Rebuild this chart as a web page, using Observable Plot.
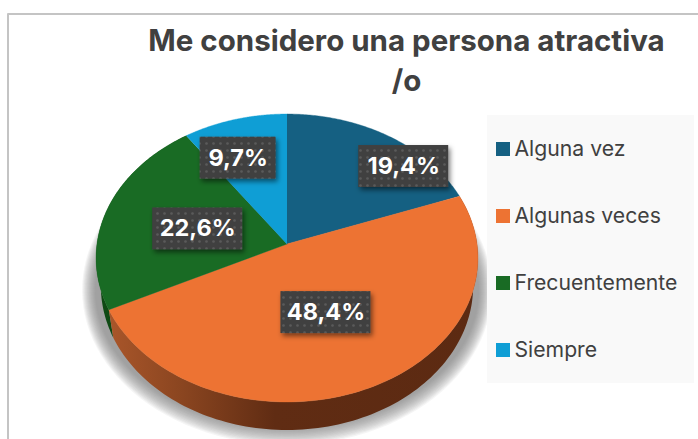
<!DOCTYPE html>
<html>
<head>
<meta charset="utf-8">
<script src="https://cdn.jsdelivr.net/npm/d3@7"></script>
<script src="https://cdn.jsdelivr.net/npm/@observablehq/plot@0.6"></script>
<style>
html,body{margin:0;padding:0;background:#fff;overflow:hidden}
svg{display:block}
</style>
</head>
<body>
<div id="chart"></div>
<script>
const categories = ["Alguna vez", "Algunas veces", "Frecuentemente", "Siempre"];
const shares = [19.4, 48.4, 22.6, 9.7];
const shareLabels = ["19,4%", "48,4%", "22,6%", "9,7%"];
const sliceColors = ["#156082", "#ed7333", "#196b24", "#0f9ed5"];
const titleLines = ["Me considero una persona atractiva", "/o"];

// Layout of the tilted pie, in pixels of the 698x439 picture
const W = 698, H = 439, CX = 286.5, CY = 243.5, RX = 190, RY = 142.6, TILT = 0.0972, DEPTH = 28 / RY;
const px = (p) => (p - CX) / RX;
const py = (p) => (p - CY) / RY;
const FONT = "Inter, sans-serif";

const project = (theta, r = 1) => {
  const u = r * Math.sin(theta), v = -r * Math.cos(theta), d = 1 - TILT * v;
  return {x: u / d, y: v / d};
};

const total = d3.sum(shares);
let acc = 0;
const slices = categories.map((name, i) => {
  const a0 = acc / total * 2 * Math.PI;
  acc += shares[i];
  const a1 = acc / total * 2 * Math.PI;
  return {name, i, a0, a1, label: shareLabels[i]};
});
const arc = (s) => d3.range(0, 121).map((k) => project(s.a0 + (s.a1 - s.a0) * k / 120));

const tops = slices.flatMap((s) => [{...project(0, 0), name: s.name}, ...arc(s).map((p) => ({...p, name: s.name}))]);
const sideOf = (s) => {
  const a = arc(s);
  return [...a, ...a.slice().reverse().map((p) => ({x: p.x * 0.975, y: p.y + DEPTH}))];
};

// Soft shadow: stacked, slightly shrinking translucent ellipses
const shadowLayers = d3.range(14).map((k) => {
  const t = k / 13, sx = (205 - 13 * t) / 191, sy = (155 - 17 * t) / 144;
  return d3.range(0, 361, 3).map((deg) => {
    const p = project(deg * Math.PI / 180);
    return {x: p.x * sx, y: (p.y - 14 / RY) * sy + 46 / RY};
  });
});

// Nudges (pixels) of the value labels from the slice's middle ray
const nudges = [[54.5, -10.5], [-8.5, -14.5], [19.5, 6], [-16.5, -8.5]];
const boxW = [90, 90, 90, 76], boxH = 42;

const defs = () => {
  const g = d3.create("svg:g");
  g.html(`<defs>
    <linearGradient id="sideOrange" x1="0" x2="1" y1="0" y2="0">
      <stop offset="0" stop-color="#a9562a"/>
      <stop offset="0.2" stop-color="#8a4520"/>
      <stop offset="0.45" stop-color="#602c13"/>
      <stop offset="1" stop-color="#5c2a12"/>
    </linearGradient>
    <pattern id="dots" width="7" height="7" patternUnits="userSpaceOnUse">
      <rect width="7" height="7" fill="#404040"/>
      <circle cx="3.5" cy="3.5" r="1.3" fill="#5a5a5a"/>
    </pattern>
    <filter id="boxShadow" x="-20%" y="-30%" width="150%" height="170%">
      <feDropShadow dx="2" dy="3" stdDeviation="2.5" flood-color="#000" flood-opacity="0.5"/>
    </filter>
  </defs>`);
  return g.node();
};

const labelMarks = slices.flatMap((s, i) => {
  const c = project((s.a0 + s.a1) / 2, 0.6);
  const [dx, dy] = nudges[i];
  const cx = c.x + dx / RX, cy = c.y + dy / RY;
  const hw = boxW[i] / 2 / RX, hh = boxH / 2 / RY;
  return [
    Plot.rect([s], {
      x1: () => cx - hw, x2: () => cx + hw, y1: () => cy - hh, y2: () => cy + hh,
      fill: "url(#dots)", imageFilter: "url(#boxShadow)"
    }),
    Plot.text([s], {
      x: () => cx, y: () => cy, text: "label", fill: "white", fontSize: 23.5,
      fontWeight: 700, fontFamily: FONT
    })
  ];
});

const legendY = (i) => py(149 + 67 * i);

const plot = Plot.plot({
  width: W, height: H, margin: 0,
  style: {background: "#fff"},
  x: {domain: [px(0), px(W)], axis: null},
  y: {domain: [py(0), py(H)], range: [0, H], axis: null},
  color: {domain: categories, range: sliceColors},
  marks: [
    defs,
    // Chart frame
    Plot.line([{x: px(7.5), y: py(H)}, {x: px(7.5), y: py(13.5)}, {x: px(W), y: py(13.5)}],
      {x: "x", y: "y", stroke: "#c4c4c4", strokeWidth: 2}),
    // Soft shadow below the pie
    ...shadowLayers.map((layer) => Plot.line(layer, {x: "x", y: "y", fill: "#707070", fillOpacity: 0.07, stroke: "none"})),
    // Legend panel
    Plot.rect([0], {x1: () => px(487), x2: () => px(694), y1: () => py(115), y2: () => py(383), fill: "#f9f9f9"}),
    // Side walls
    Plot.line(sideOf(slices[2]), {x: "x", y: "y", fill: "#0f4a14", stroke: "none"}),
    Plot.line(sideOf(slices[1]), {x: "x", y: "y", fill: "url(#sideOrange)", stroke: "none"}),
    // Top faces
    Plot.line(tops, {x: "x", y: "y", z: "name", fill: "name", stroke: "name", strokeWidth: 0.4}),
    ...labelMarks,
    // Title
    Plot.text(titleLines, {
      x: () => px(406), y: (d, i) => py(41 + 40 * i), text: (d) => d,
      fill: "#404040", fontSize: 29.5, fontWeight: 700, fontFamily: FONT
    }),
    // Legend
    Plot.rect(slices, {
      x1: () => px(496), x2: () => px(510),
      y1: (d) => legendY(d.i) - 7 / RY, y2: (d) => legendY(d.i) + 7 / RY,
      fill: "name"
    }),
    Plot.text(slices, {
      x: () => px(514), y: (d) => legendY(d.i), text: "name", textAnchor: "start",
      fill: "#404040", fontSize: 21.2, fontFamily: FONT
    })
  ]
});
document.getElementById("chart").append(plot);
</script>
</body>
</html>
